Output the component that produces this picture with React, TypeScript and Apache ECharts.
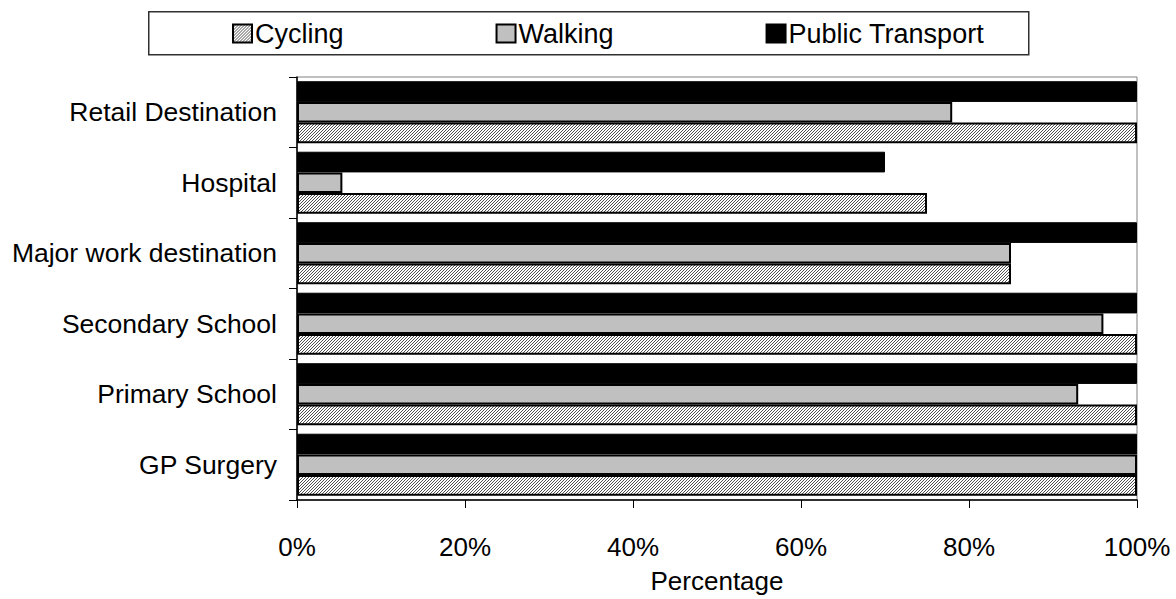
import React, { useEffect, useRef } from "react";
import * as echarts from "echarts";

// Destinations, listed bottom to top on the category axis
const destinations = [
  "GP Surgery",
  "Primary School",
  "Secondary School",
  "Major work destination",
  "Hospital",
  "Retail Destination",
];

// Share of each destination reachable by mode (%)
const cycling = [100, 100, 100, 85, 75, 100];
const walking = [100, 93, 96, 85, 5.4, 78];
const publicTransport = [100, 100, 100, 100, 70, 100];

const percentTicks = [0, 20, 40, 60, 80, 100];

const FONT = "'Liberation Sans', Arial, sans-serif";

function makeHatch(): HTMLCanvasElement {
  const c = document.createElement("canvas");
  c.width = 3;
  c.height = 3;
  const ctx = c.getContext("2d")!;
  ctx.fillStyle = "#ffffff";
  ctx.fillRect(0, 0, 3, 3);
  ctx.fillStyle = "#505050";
  // fine upward diagonal stripes
  for (let i = 0; i < 3; i++) {
    ctx.fillRect(i, 2 - i, 1, 1);
  }
  return c;
}

export default function App() {
  const ref = useRef<HTMLDivElement>(null);

  useEffect(() => {
    if (!ref.current) return;
    const chart = echarts.init(ref.current, undefined, { renderer: "svg" });
    const hatchFill: any = {
      image: makeHatch(),
      repeat: "repeat",
    };

    chart.setOption({
      animation: false,
      backgroundColor: "#ffffff",
      textStyle: { fontFamily: FONT, color: "#000" },
      graphic: [
        {
          type: "rect",
          left: 148,
          top: 11,
          shape: { width: 880, height: 43 },
          style: { fill: "#fff", stroke: "#303030", lineWidth: 1.5 },
          z: -1,
        },
      ],
      legend: {
        data: ["Cycling", "Walking", "Public Transport"],
        left: 227,
        top: 15,
        itemWidth: 19,
        itemHeight: 18,
        itemGap: 152,
        icon: "rect",
        textStyle: { fontFamily: FONT, fontSize: 27, color: "#000", padding: [0, 0, 0, -2] },
      },
      grid: {
        left: 297,
        right: 39,
        top: 77,
        bottom: 92,
        show: true,
        borderColor: "#808080",
        borderWidth: 1,
      },
      xAxis: {
        type: "value",
        min: percentTicks[0],
        max: percentTicks[percentTicks.length - 1],
        interval: percentTicks[1] - percentTicks[0],
        name: "Percentage",
        nameLocation: "middle",
        nameGap: 68,
        nameTextStyle: { fontFamily: FONT, fontSize: 26, color: "#000" },
        axisLine: { show: true, lineStyle: { color: "#000", width: 1.5 } },
        axisTick: { show: true, length: 8, lineStyle: { color: "#000" } },
        axisLabel: {
          formatter: "{value}%",
          fontFamily: FONT,
          fontSize: 26,
          color: "#000",
          margin: 34,
        },
        splitLine: { show: false },
      },
      yAxis: {
        type: "category",
        data: destinations,
        axisLine: { show: true, lineStyle: { color: "#000", width: 1.5 } },
        axisTick: { show: true, length: 8, lineStyle: { color: "#000" } },
        axisLabel: {
          fontFamily: FONT,
          fontSize: 26.5,
          color: "#000",
          margin: 20,
        },
      },
      series: [
        {
          name: "Public Transport",
          type: "bar",
          data: publicTransport,
          barGap: "0%",
          barCategoryGap: "12%",
          itemStyle: { color: "#000", borderColor: "#000", borderWidth: 1 },
        },
        {
          name: "Walking",
          type: "bar",
          data: walking,
          itemStyle: { color: "#c0c0c0", borderColor: "#000", borderWidth: 2 },
        },
        {
          name: "Cycling",
          type: "bar",
          data: cycling,
          itemStyle: { color: hatchFill, borderColor: "#000", borderWidth: 2 },
        },
      ],
    });

    return () => chart.dispose();
  }, []);

  return (
    <div
      ref={ref}
      style={{ position: "absolute", left: 0, top: 0, width: 1176, height: 599 }}
    />
  );
}
